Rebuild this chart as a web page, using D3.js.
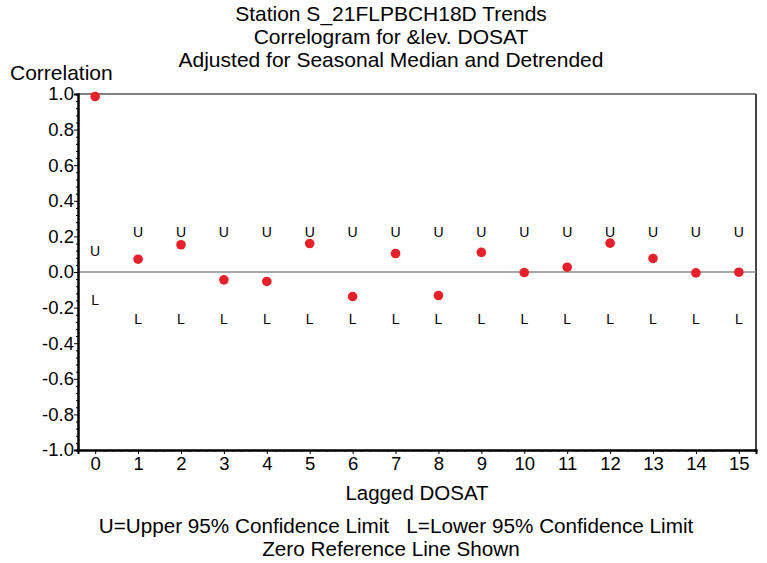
<!DOCTYPE html>
<html><head><meta charset="utf-8">
<script src="https://cdn.jsdelivr.net/npm/d3@7"></script>
<style>body{margin:0;background:#fff}svg{display:block}text{font-family:"Liberation Sans",Arial,sans-serif;fill:#000}</style>
</head><body>
<svg id="c" width="767" height="563"></svg>
<script>
const lags = [0,1,2,3,4,5,6,7,8,9,10,11,12,13,14,15];
const correlation = [0.986,0.072,0.153,-0.044,-0.053,0.160,-0.138,0.104,-0.132,0.110,-0.003,0.027,0.162,0.076,-0.005,-0.001];
const upperLimit = [0.14,0.245,0.245,0.245,0.245,0.245,0.245,0.245,0.245,0.245,0.245,0.245,0.245,0.245,0.245,0.245];
const lowerLimit = [-0.14,-0.245,-0.245,-0.245,-0.245,-0.245,-0.245,-0.245,-0.245,-0.245,-0.245,-0.245,-0.245,-0.245,-0.245,-0.245];
const yTicks = [1.0,0.8,0.6,0.4,0.2,0.0,-0.2,-0.4,-0.6,-0.8,-1.0];
const yTickLabels = ["1.0","0.8","0.6","0.4","0.2","0.0","-0.2","-0.4","-0.6","-0.8","-1.0"];
const titles = ["Station S_21FLPBCH18D Trends","Correlogram for &lev. DOSAT","Adjusted for Seasonal Median and Detrended"];
const footnotes = ["U=Upper 95% Confidence Limit\u00a0\u00a0\u00a0L=Lower 95% Confidence Limit","Zero Reference Line Shown"];
const xTitle = "Lagged DOSAT", yTitle = "Correlation";

const svg = d3.select("#c");
const L=78,R=756,T=94,B=450;
const x = d3.scaleLinear().domain([-0.4,15.4]).range([L,R]);
const y = d3.scaleLinear().domain([-1,1]).range([B,T]);

// titles
svg.selectAll("text.title").data(titles).join("text").attr("class","title")
  .attr("x",391).attr("y",(d,i)=>21+i*23).attr("text-anchor","middle").attr("font-size",21).text(d=>d);

// frame
svg.append("line").attr("x1",L).attr("x2",R).attr("y1",T).attr("y2",T).attr("stroke","#000").attr("stroke-width",1.2);
svg.append("line").attr("x1",R).attr("x2",R).attr("y1",T).attr("y2",B).attr("stroke","#444").attr("stroke-width",2);

// zero line
svg.append("line").attr("x1",L).attr("x2",R).attr("y1",y(0)).attr("y2",y(0)).attr("stroke","#8a8a8a").attr("stroke-width",1.6);

// y axis
const yMinor = d3.range(-1,1.0001,0.04).filter(v=>Math.abs(Math.round(v*5)-v*5)>1e-6);
const yAx = svg.append("g").attr("transform",`translate(${L},0)`);
yAx.call(d3.axisLeft(y).tickValues(yTicks).tickFormat((d,i)=>yTickLabels[i]).tickSize(4).tickPadding(0));
yAx.append("g").call(d3.axisLeft(y).tickValues(yMinor).tickFormat("").tickSize(2));
yAx.selectAll(".domain").attr("stroke","#000").attr("stroke-width",2);
yAx.selectAll("line").attr("stroke","#000");
yAx.selectAll("text").attr("font-size",18.5).attr("fill","#000").attr("font-family","Liberation Sans, Arial, sans-serif");

// x axis
const xMinor = d3.range(0,15.0001,0.2).filter(v=>Math.abs(Math.round(v)-v)>1e-6);
const xAx = svg.append("g").attr("transform",`translate(0,${B})`);
xAx.call(d3.axisBottom(x).tickValues(lags).tickFormat(d=>String(d)).tickSize(4).tickPadding(3));
xAx.append("g").call(d3.axisBottom(x).tickValues(xMinor).tickFormat("").tickSize(2));
xAx.selectAll(".domain").attr("stroke","#000").attr("stroke-width",2);
xAx.selectAll("line").attr("stroke","#000");
xAx.selectAll("text").attr("font-size",18.5).attr("fill","#000").attr("font-family","Liberation Sans, Arial, sans-serif");

// axis titles
svg.append("text").attr("x",10).attr("y",80).attr("font-size",21).text(yTitle);
svg.append("text").attr("x",417).attr("y",500).attr("text-anchor","middle").attr("font-size",20.5).text(xTitle);

// confidence letters
const letter = (vals, ch) => svg.selectAll("text.l"+ch).data(lags).join("text").attr("class","l"+ch)
  .attr("x",d=>x(d)).attr("y",(d,i)=>y(vals[i])+8.5)
  .attr("text-anchor","middle").attr("font-size",14)
  .attr("font-family","Liberation Sans Narrow, Liberation Sans, Arial, sans-serif")
  .attr("fill","#222").text(ch);
letter(upperLimit,"U");
letter(lowerLimit,"L");

// dots
svg.selectAll("circle.pt").data(lags).join("circle").attr("class","pt")
  .attr("cx",d=>x(d)).attr("cy",(d,i)=>y(correlation[i])).attr("r",4.8).attr("fill","#e8202a");

// footnotes
svg.selectAll("text.foot").data(footnotes).join("text").attr("class","foot")
  .attr("x",(d,i)=>i===0?396:391).attr("y",(d,i)=>533+i*23).attr("text-anchor","middle").attr("font-size",20.7).text(d=>d);
</script>
</body></html>
